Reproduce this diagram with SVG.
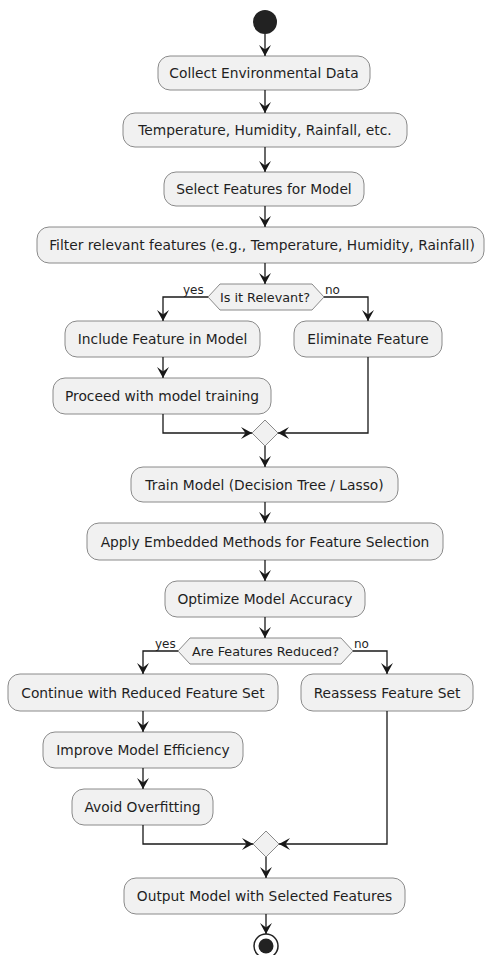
<svg xmlns="http://www.w3.org/2000/svg" width="486" height="955" viewBox="0 0 486 955">
<defs>
<marker id="ah" markerUnits="userSpaceOnUse" markerWidth="14" markerHeight="14" refX="11" refY="6" orient="auto">
<path d="M0,0 L11,6 L0,12 L4.5,6 Z" fill="#181818"/>
</marker>
</defs>
<style>
.box{fill:#F1F1F1;stroke:#8a8a8a;stroke-width:1}
.t{font-family:"DejaVu Sans",sans-serif;font-size:13.8px;fill:#1f1f1f;text-anchor:middle}
.d{font-size:12.8px}
.l{font-family:"DejaVu Sans",sans-serif;font-size:12px;fill:#1f1f1f}
.c{fill:none;stroke:#181818;stroke-width:1.3}
</style>
<rect width="486" height="955" fill="#ffffff"/>
<g id="start"><circle cx="265" cy="22" r="12" fill="#222"/></g>
<g id="n1"><rect class="box" x="158" y="56" width="212" height="34" rx="12"/><text class="t" x="264" y="78">Collect Environmental Data</text></g>
<g id="n2"><rect class="box" x="123" y="113" width="284" height="34" rx="12"/><text class="t" x="265" y="135">Temperature, Humidity, Rainfall, etc.</text></g>
<g id="n3"><rect class="box" x="164" y="172" width="200" height="34" rx="12"/><text class="t" x="264" y="194">Select Features for Model</text></g>
<g id="n4"><rect class="box" x="37" y="227" width="447" height="36" rx="12"/><text class="t" x="262" y="250">Filter relevant features (e.g., Temperature, Humidity, Rainfall)</text></g>
<g id="d1"><polygon class="box" points="208,297 220,284 312,284 324,297 312,310 220,310"/><text class="t d" x="265" y="301.5">Is it Relevant?</text></g>
<g id="n5"><rect class="box" x="65" y="321" width="195" height="36" rx="12"/><text class="t" x="162.5" y="344">Include Feature in Model</text></g>
<g id="n6"><rect class="box" x="294" y="321" width="148" height="36" rx="12"/><text class="t" x="368" y="344">Eliminate Feature</text></g>
<g id="n7"><rect class="box" x="53" y="378" width="218" height="36" rx="12"/><text class="t" x="162" y="401">Proceed with model training</text></g>
<g id="m1"><polygon class="box" points="265,420 278,433 265,446 252,433"/></g>
<g id="n8"><rect class="box" x="131" y="467" width="267" height="35" rx="12"/><text class="t" x="264.5" y="489.5">Train Model (Decision Tree / Lasso)</text></g>
<g id="n9"><rect class="box" x="87" y="523" width="356" height="37" rx="12"/><text class="t" x="265" y="546.5">Apply Embedded Methods for Feature Selection</text></g>
<g id="n10"><rect class="box" x="165" y="581" width="200" height="36" rx="12"/><text class="t" x="265" y="604">Optimize Model Accuracy</text></g>
<g id="d2"><polygon class="box" points="178,651 190,638 341,638 353,651 341,664 190,664"/><text class="t d" x="265.5" y="655.5">Are Features Reduced?</text></g>
<g id="n11"><rect class="box" x="8" y="674" width="270" height="37" rx="12"/><text class="t" x="143" y="697.5">Continue with Reduced Feature Set</text></g>
<g id="n12"><rect class="box" x="301" y="674" width="172" height="37" rx="12"/><text class="t" x="387" y="697.5">Reassess Feature Set</text></g>
<g id="n13"><rect class="box" x="43" y="732" width="200" height="36" rx="12"/><text class="t" x="143" y="755">Improve Model Efficiency</text></g>
<g id="n14"><rect class="box" x="72" y="789" width="141" height="36" rx="12"/><text class="t" x="142.5" y="812">Avoid Overfitting</text></g>
<g id="m2"><polygon class="box" points="266,831 279,844 266,857 253,844"/></g>
<g id="n15"><rect class="box" x="124" y="878" width="281" height="36" rx="12"/><text class="t" x="264.5" y="901">Output Model with Selected Features</text></g>
<g id="end"><circle cx="266" cy="946" r="12" fill="#fff" stroke="#222" stroke-width="1.5"/><circle cx="266" cy="946" r="7.5" fill="#222"/></g>
<g id="connectors">
<path class="c" d="M265,34 V56" marker-end="url(#ah)"/>
<path class="c" d="M265,90 V113" marker-end="url(#ah)"/>
<path class="c" d="M265,147 V172" marker-end="url(#ah)"/>
<path class="c" d="M265,206 V227" marker-end="url(#ah)"/>
<path class="c" d="M265,263 V284" marker-end="url(#ah)"/>
<path class="c" d="M208,297 H163 V321" marker-end="url(#ah)"/>
<path class="c" d="M324,297 H368 V321" marker-end="url(#ah)"/>
<path class="c" d="M163,357 V378" marker-end="url(#ah)"/>
<path class="c" d="M163,414 V433 H252" marker-end="url(#ah)"/>
<path class="c" d="M368,357 V433 H278" marker-end="url(#ah)"/>
<path class="c" d="M265,446 V467" marker-end="url(#ah)"/>
<path class="c" d="M265,502 V523" marker-end="url(#ah)"/>
<path class="c" d="M265,560 V581" marker-end="url(#ah)"/>
<path class="c" d="M265,617 V638" marker-end="url(#ah)"/>
<path class="c" d="M178,651 H143 V674" marker-end="url(#ah)"/>
<path class="c" d="M353,651 H387 V674" marker-end="url(#ah)"/>
<path class="c" d="M143,711 V732" marker-end="url(#ah)"/>
<path class="c" d="M143,768 V789" marker-end="url(#ah)"/>
<path class="c" d="M143,825 V844 H253" marker-end="url(#ah)"/>
<path class="c" d="M387,711 V844 H279" marker-end="url(#ah)"/>
<path class="c" d="M266,857 V878" marker-end="url(#ah)"/>
<path class="c" d="M266,914 V934" marker-end="url(#ah)"/>
<text class="l" x="183" y="294">yes</text>
<text class="l" x="325" y="294">no</text>
<text class="l" x="155" y="648">yes</text>
<text class="l" x="354" y="648">no</text>
</g>
</svg>
